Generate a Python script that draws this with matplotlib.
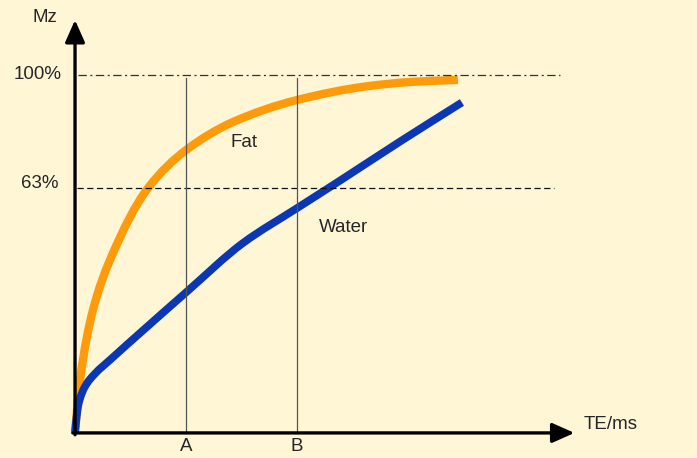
import numpy as np
import matplotlib.pyplot as plt
import matplotlib as mpl
from matplotlib.path import Path
from matplotlib.patches import PathPatch

mpl.rcParams['font.family'] = ['Liberation Sans', 'DejaVu Sans']
mpl.rcParams['lines.scale_dashes'] = False

# curves (x: TE, A=1, B=2; y: Mz in %)
fat_x = [0.0, 0.045, 0.162, 0.315, 0.658, 1.0, 1.423, 2.0, 2.631, 3.018, 3.45]
fat_y = [-17.2, 0.1, 23.1, 39.4, 63.0, 75.4, 84.6, 91.8, 96.3, 97.7, 98.4]
water_x = [0.0, 0.027, 0.09, 0.18, 0.315, 1.0, 1.514, 2.0, 2.387, 2.928, 3.486]
water_y = [-16.9, -8.5, -2.0, 2.2, 6.7, 28.8, 45.0, 56.4, 65.4, 78.2, 91.0]

te_marks = [1, 2]
te_labels = ['A', 'B']
mz_levels = [100, 63]
mz_labels = ['100%', '63%']

bg = '#FFF6D6'
txt = '#262626'


def smooth_path(xs, ys):
    # monotone cubic (Fritsch-Carlson) through the read points, as bezier segments
    x = np.asarray(xs, float)
    y = np.asarray(ys, float)
    h = np.diff(x)
    d = np.diff(y) / h
    m = np.zeros_like(y)
    m[0], m[-1] = d[0], d[-1]
    for i in range(1, len(x) - 1):
        if d[i - 1] * d[i] > 0:
            w1 = 2 * h[i] + h[i - 1]
            w2 = h[i] + 2 * h[i - 1]
            m[i] = (w1 + w2) / (w1 / d[i - 1] + w2 / d[i])
    verts = [(x[0], y[0])]
    codes = [Path.MOVETO]
    for i in range(len(x) - 1):
        verts += [(x[i] + h[i] / 3, y[i] + m[i] * h[i] / 3),
                  (x[i + 1] - h[i] / 3, y[i + 1] - m[i + 1] * h[i] / 3),
                  (x[i + 1], y[i + 1])]
        codes += [Path.CURVE4] * 3
    return Path(verts, codes)


fig = plt.figure(figsize=(6.97, 4.58), dpi=100, facecolor=bg)
ax = fig.add_axes([0, 0, 1, 1])
ax.set_facecolor(bg)
ax.axis('off')
ax.set_xlim(-0.676, 5.604)
ax.set_ylim(-25.41, 124.55)

y0 = -17.2
fs = 13.5
# reference levels
ax.plot([0.027, 4.37], [mz_levels[0]] * 2, color='#333333', lw=0.9, ls=(0, (6, 2.5, 1.5, 2.5)))
ax.plot([0.02, 4.32], [mz_levels[1]] * 2, color='#111111', lw=0.9, ls=(0, (4.5, 2.5)))
ax.text(-0.117, mz_levels[0], mz_labels[0], ha='right', va='center', fontsize=fs, color=txt)
ax.text(-0.153, 64.6, mz_labels[1], ha='right', va='center', fontsize=fs, color=txt)

# TE markers
for xm, lab in zip(te_marks, te_labels):
    ax.plot([xm, xm], [y0, 99.0], color='#555555', lw=0.9)
    ax.text(xm, -21.8, lab, ha='center', va='center', fontsize=fs, color=txt)

# curves
ax.add_patch(PathPatch(smooth_path(fat_x, fat_y), fill=False, ec='#FF9A0A', lw=6,
                       capstyle='butt', joinstyle='round'))
ax.add_patch(PathPatch(smooth_path(water_x, water_y), fill=False, ec='#0B36B4', lw=5.6,
                       capstyle='butt', joinstyle='round'))
ax.text(1.52, 77.8, 'Fat', ha='center', va='center', fontsize=fs, color=txt)
ax.text(2.42, 50.2, 'Water', ha='center', va='center', fontsize=fs, color=txt)

# axes with arrows
arrow = dict(arrowstyle='-|>,head_length=0.45,head_width=0.2', lw=2.4, color='black',
             mutation_scale=30, shrinkA=0, shrinkB=0)
ax.annotate('', xy=(4.5, y0), xytext=(-0.02, y0), arrowprops=arrow)
ax.annotate('', xy=(0, 118.0), xytext=(0, y0 - 0.6), arrowprops=arrow)
ax.text(-0.27, 118.7, 'Mz', ha='center', va='center', fontsize=fs, color=txt)
ax.text(4.58, -14.6, 'TE/ms', ha='left', va='center', fontsize=fs, color=txt)

fig.savefig('out.png', dpi=100, facecolor=bg)
